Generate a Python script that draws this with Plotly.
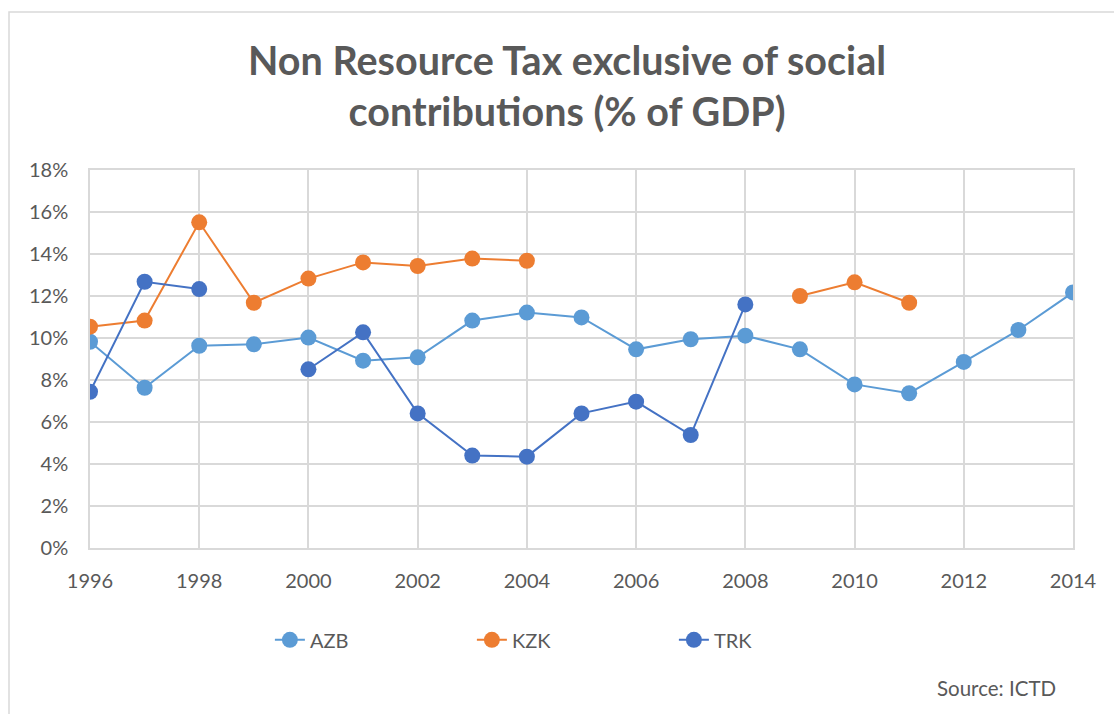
import plotly.graph_objects as go

years = list(range(1996, 2015))
azb = [9.82, 7.63, 9.63, 9.70, 10.02, 8.92, 9.08, 10.83, 11.21, 10.98,
       9.46, 9.94, 10.11, 9.46, 7.79, 7.37, 8.86, 10.38, 12.17]
kzk = [10.54, 10.83, 15.51, 11.68, 12.83, 13.60, 13.43, 13.78, 13.68, None,
       None, None, None, 12.00, 12.65, 11.68, None, None, None]
trk = [7.44, 12.68, 12.33, None, 8.51, 10.27, 6.41, 4.40, 4.35, 6.41,
       6.97, 5.38, 11.60, None, None, None, None, None, None]

series = [("AZB", azb, "#5B9BD5"), ("KZK", kzk, "#ED7D31"), ("TRK", trk, "#4472C4")]

FONT = "Lato"
TXT = "#595959"
GRID = "#D9D9D9"

fig = go.Figure()
for name, vals, col in series:
    fig.add_trace(go.Scatter(
        x=years, y=[v / 100 if v is not None else None for v in vals],
        name=name, mode="lines+markers", connectgaps=False,
        line=dict(color=col, width=2),
        marker=dict(color=col, size=16, line=dict(width=0)),
    ))

fig.update_layout(
    width=1114, height=714,
    margin=dict(l=90, r=41, t=170, b=166),
    paper_bgcolor="white", plot_bgcolor="white",
    font=dict(family=FONT, color=TXT, size=20),
    title=dict(text="<b>Non Resource Tax exclusive of social<br>contributions (% of GDP)</b>",
               x=0.509, xanchor="center", xref="container",
               y=1 - 75 / 714, yanchor="top", yref="container",
               font=dict(family=FONT, size=39.5, color=TXT)),
    showlegend=True,
    legend=dict(orientation="h", x=0.183, xanchor="left", y=-0.243, yanchor="middle",
                entrywidth=157, entrywidthmode="pixels",
                font=dict(family=FONT, size=20, color=TXT)),
    annotations=[dict(text="Source: ICTD", xref="paper", yref="paper",
                      x=(1058 - 90) / 983, xanchor="right",
                      y=(548 - 688) / 378, yanchor="middle", showarrow=False,
                      font=dict(family=FONT, size=20.5, color=TXT))],
    shapes=[dict(type="rect", xref="paper", yref="paper",
                 x0=(9 - 90) / 983, x1=(1125 - 90) / 983,
                 y0=(548 - 730) / 378, y1=(548 - 12) / 378,
                 line=dict(color=GRID, width=1.5), fillcolor="rgba(0,0,0,0)", layer="below")],
)

fig.update_xaxes(range=[1996, 2014], dtick=2, tick0=1996, showgrid=True, gridcolor=GRID,
                 gridwidth=1.5, showline=True, linecolor=GRID, linewidth=1.5, mirror=True,
                 zeroline=False, ticks="", ticklabelstandoff=14,
                 tickfont=dict(family=FONT, size=20, color=TXT))
fig.update_yaxes(range=[0, 0.18], dtick=0.02, tickformat=".0%", showgrid=True, gridcolor=GRID,
                 gridwidth=1.5, showline=True, linecolor=GRID, linewidth=1.5, mirror=True,
                 zeroline=False, ticks="", ticklabelstandoff=16,
                 tickfont=dict(family=FONT, size=20, color=TXT))

fig.write_html("out.html")
